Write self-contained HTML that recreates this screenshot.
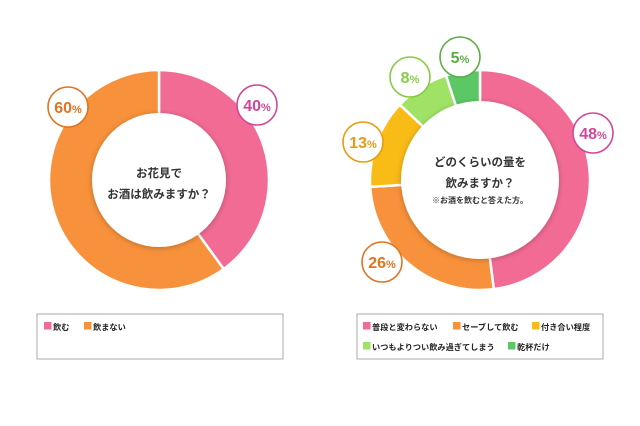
<!DOCTYPE html>
<html><head><meta charset="utf-8">
<style>
html,body{margin:0;padding:0;background:#fff;}
body{width:640px;height:421px;overflow:hidden;font-family:"Liberation Sans","Noto Sans CJK JP",sans-serif;}
svg text{font-family:"Liberation Sans","Noto Sans CJK JP",sans-serif;}
</style></head>
<body>
<svg id="c" width="640" height="421" viewBox="0 0 640 421">
<defs>
<filter id="sh" x="-30%" y="-30%" width="160%" height="160%"><feDropShadow dx="0" dy="1" stdDeviation="3" flood-color="#000" flood-opacity="0.25"/></filter>
</defs>
</svg>
<script>
// Left chart data
const leftCategories = ["飲む", "飲まない"];
const leftValues = [40, 60];
const leftLabels = ["40%", "60%"];
// Right chart data
const rightCategories = ["普段と変わらない", "セーブして飲む", "付き合い程度", "いつもよりつい飲み過ぎてしまう", "乾杯だけ"];
const rightValues = [48, 26, 13, 8, 5];
const rightLabels = ["48%", "26%", "13%", "8%", "5%"];

const fillColors = ["#f26b95", "#f8913b", "#f9bb16", "#9fe266", "#5cc865"];
const strokeColors = ["#d2479a", "#e0741f", "#e89a10", "#86cc43", "#5aae45"];
const NS = "http://www.w3.org/2000/svg";
const svg = document.getElementById('c');
function mk(tag, attrs, parent){const e=document.createElementNS(NS,tag);for(const k in attrs)e.setAttribute(k,attrs[k]);(parent||svg).appendChild(e);return e;}
function pt(cx,cy,r,a){return [cx+r*Math.sin(a), cy-r*Math.cos(a)];}

function donut(cx, cy, ro, ri, values, labels, labelPos, prefix){
  const total = values.reduce((a,b)=>a+b,0);
  let acc = 0;
  const rin = ri-4;
  values.forEach((v,i)=>{
    const a0 = acc/total*2*Math.PI; acc+=v; const a1 = acc/total*2*Math.PI;
    const large = (a1-a0)>Math.PI?1:0;
    const p0=pt(cx,cy,ro,a0), p1=pt(cx,cy,ro,a1), q1=pt(cx,cy,rin,a1), q0=pt(cx,cy,rin,a0);
    const p = mk('path',{d:`M${p0[0]},${p0[1]} A${ro},${ro} 0 ${large} 1 ${p1[0]},${p1[1]} L${q1[0]},${q1[1]} A${rin},${rin} 0 ${large} 0 ${q0[0]},${q0[1]} Z`, fill:fillColors[i], stroke:'#fff','stroke-width':2.5});
    
    
  });
  const c = mk('circle',{cx:cx,cy:cy,r:ri,fill:'#fff',filter:'url(#sh)'});
  
  
  labels.forEach((t,i)=>{
    const [lx,ly] = labelPos[i];
    const g = mk('g',{});
    
    
    mk('circle',{cx:lx,cy:ly,r:20,fill:'#fff',stroke:strokeColors[i],'stroke-width':1.6},g);
    const tx = mk('text',{x:lx,y:ly+6,'text-anchor':'middle','font-size':16,'font-weight':'bold',fill:strokeColors[i]},g);
    tx.textContent = t.replace('%','');
    const ts = mk('tspan',{'font-size':11},tx); ts.textContent='%';
  });
}
donut(159,180,110,67,leftValues,leftLabels,[[257,105],[68,107]],'left');
donut(480,180,110,79,rightValues,rightLabels,[[593,133],[382,262],[363,142],[410,77],[460,57]],'right');

function ctext(x,y,s,size,name){const t=mk('text',{x:x,y:y,'text-anchor':'middle','font-size':size,'font-weight':'bold',fill:'#333'});t.textContent=s;}
ctext(159,177,'お花見で',11.5,'left-center-title-line1');
ctext(159,198,'お酒は飲みますか？',11.5,'left-center-title-line2');
ctext(480,166,'どのくらいの量を',11.5,'right-center-title-line1');
ctext(480,187,'飲みますか？',11.5,'right-center-title-line2');
ctext(480,203,'※お酒を飲むと答えた方。',8,'right-center-note');

function legendBox(x,y,w,h,name){const r=mk('rect',{x:x,y:y,width:w,height:h,fill:'#fff',stroke:'#aaa','stroke-width':1});}
legendBox(37,314,246,45,'left-legend');
legendBox(357,314,246,45,'right-legend');
function legendItem(x,y,i,label,name){
  const g=mk('g',{});
  
  
  mk('rect',{x:x,y:y-8,width:7.5,height:7.5,fill:fillColors[i]},g);
  const t=mk('text',{x:x+9,y:y,'font-size':8.2,'font-weight':'bold',fill:'#222'},g);t.textContent=label;
}
legendItem(44,330,0,leftCategories[0],'legend-entry-drink');
legendItem(84,330,1,leftCategories[1],'legend-entry-not-drink');
const rlx=[363,453,532,363,508], rly=[330,330,330,350,350];
rightCategories.forEach((c,i)=>legendItem(rlx[i],rly[i],i,c,'legend-entry-'+(i+1)));
</script>
</body></html>
